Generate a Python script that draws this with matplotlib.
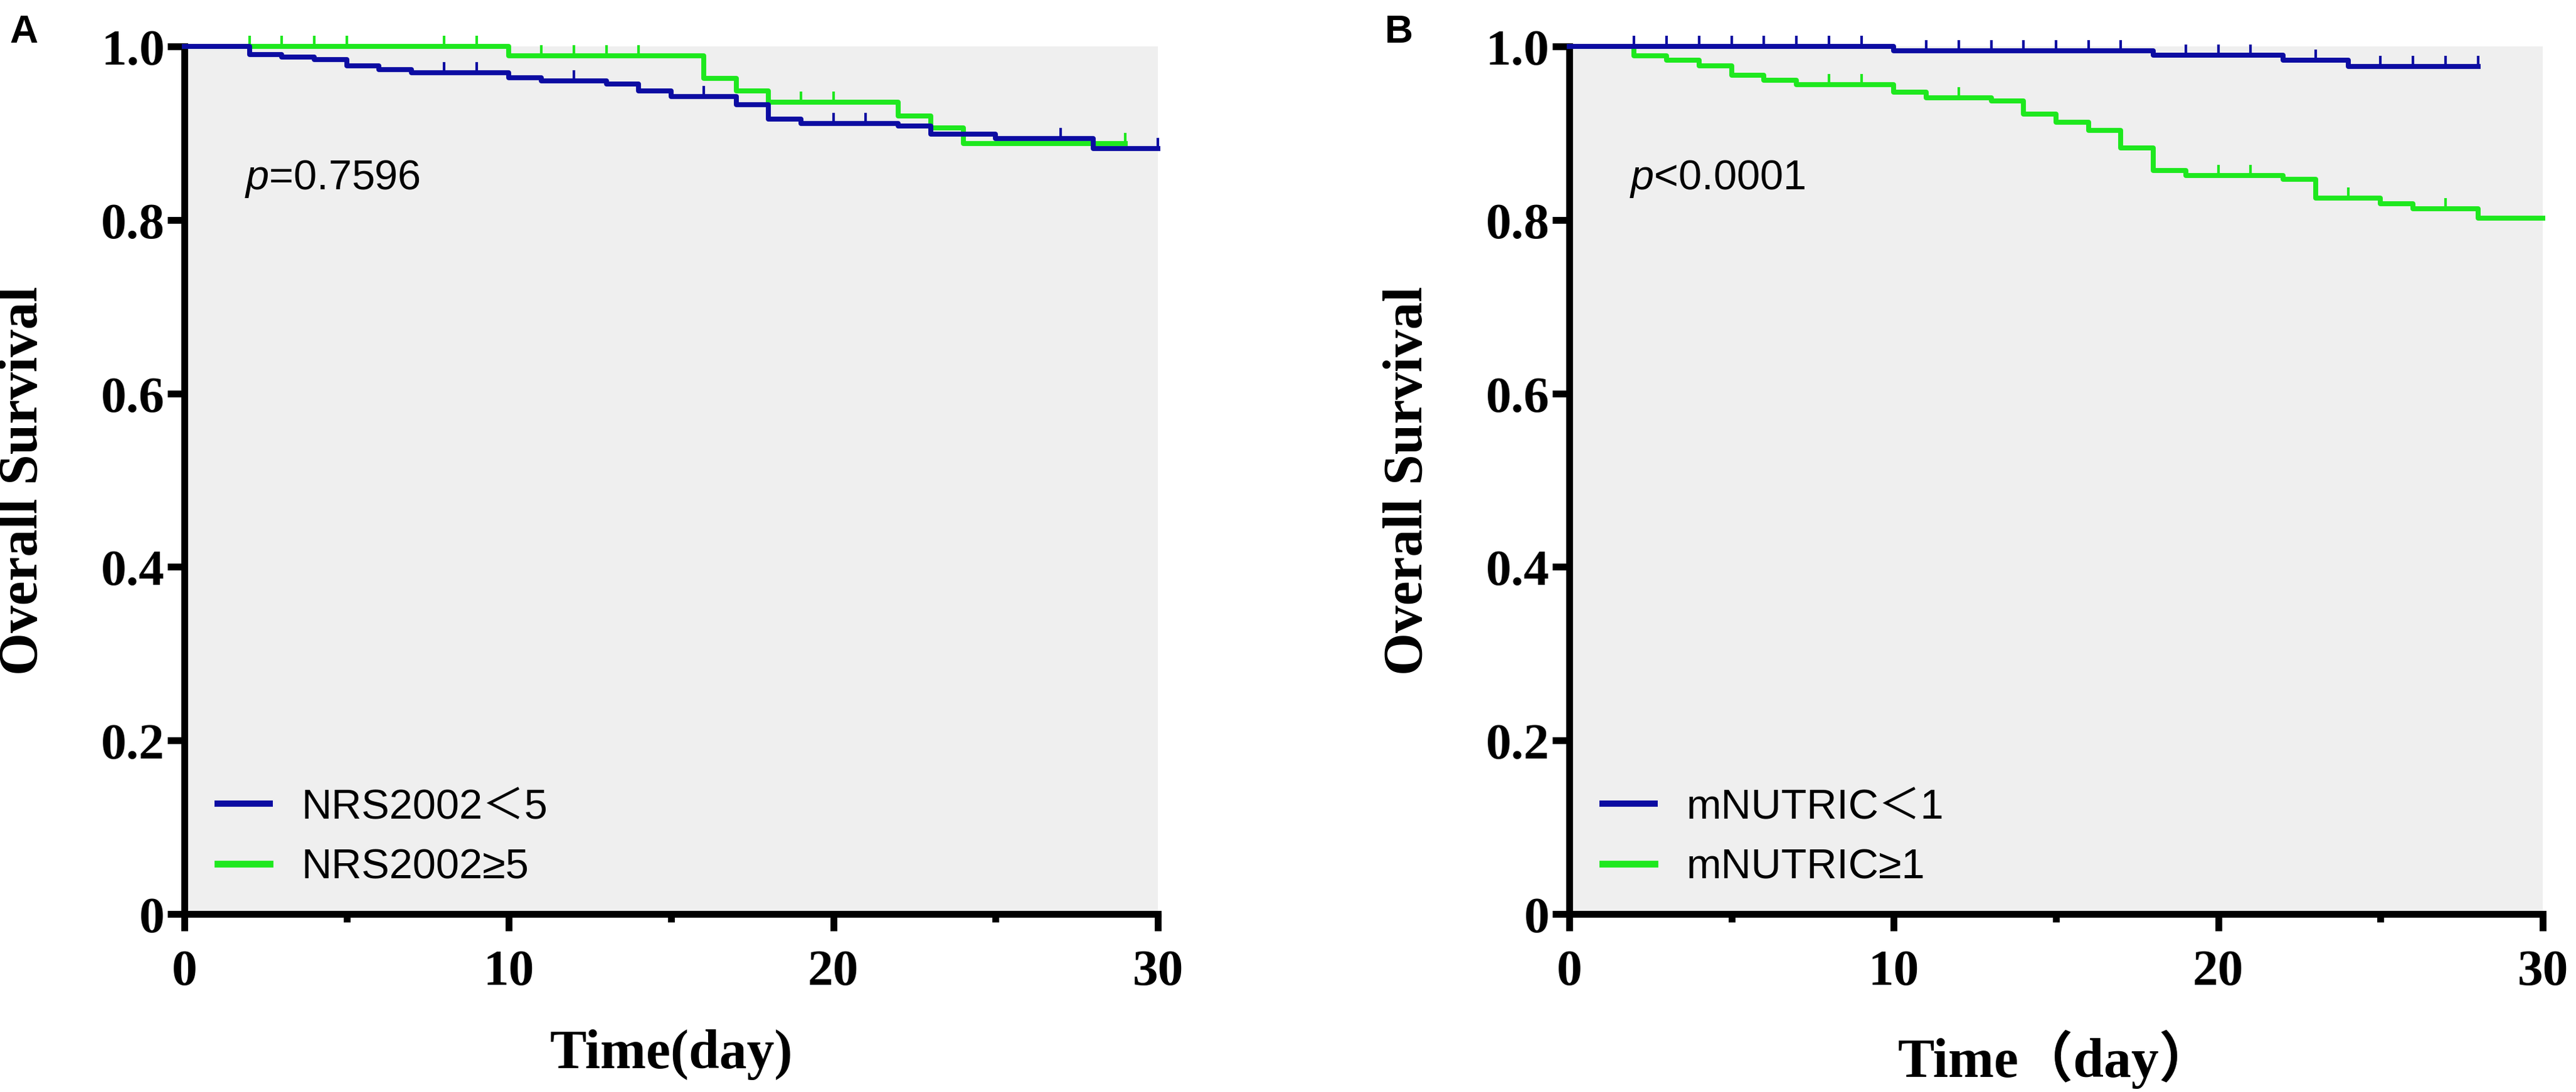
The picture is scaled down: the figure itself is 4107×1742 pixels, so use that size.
import numpy as np
import matplotlib
matplotlib.use("Agg")
import matplotlib.pyplot as plt
from matplotlib.lines import Line2D

plt.rcParams['mathtext.fontset'] = 'custom'
plt.rcParams['mathtext.rm'] = 'Liberation Sans'
plt.rcParams['mathtext.it'] = 'Liberation Sans:italic'

# ---- panel A: NRS2002 ----
a_low_t = [0, 2, 3, 4, 5, 6, 7, 10, 11, 13, 14, 15, 17, 18, 19, 22, 23, 25, 28, 30]
a_low_s = [1.0, 0.991, 0.988, 0.985, 0.978, 0.973, 0.970, 0.964, 0.960, 0.957,
           0.949, 0.942, 0.933, 0.916, 0.911, 0.908, 0.899, 0.894, 0.882, 0.882]
a_low_cens = [8, 9, 12, 16, 20, 21, 27, 30]

a_high_t = [0, 10, 16, 17, 18, 22, 23, 24, 29]
a_high_s = [1.0, 0.989, 0.963, 0.949, 0.936, 0.920, 0.906, 0.888, 0.888]
a_high_cens = [2, 3, 4, 5, 8, 9, 11, 12, 13, 14, 19, 20, 29]

# ---- panel B: mNUTRIC ----
b_low_t = [0, 10, 18, 22, 24, 28]
b_low_s = [1.0, 0.995, 0.990, 0.984, 0.977, 0.977]
b_low_cens = [2, 3, 4, 5, 6, 7, 8, 9, 11, 12, 13, 14, 15, 16, 17,
              19, 20, 21, 23, 25, 26, 27, 28]

b_high_t = [0, 2, 3, 4, 5, 6, 7, 10, 11, 13, 14, 15, 16, 17, 18, 19, 22, 23, 25, 26, 28, 30]
b_high_s = [1.0, 0.989, 0.984, 0.978, 0.967, 0.961, 0.956, 0.947, 0.941, 0.937, 0.922,
            0.913, 0.903, 0.883, 0.857, 0.851, 0.847, 0.825, 0.819, 0.813, 0.802, 0.802]
b_high_cens = [8, 9, 12, 20, 21, 24, 27]

labels_a = ['NRS2002\uff1c5', 'NRS2002\u22655']
labels_b = ['mNUTRIC\uff1c1', 'mNUTRIC\u22651']
pvals = ['$p$=0.7596', '$p$<0.0001']
xlabels = ['Time(day)', 'Time\uff08day\uff09']

BLUE = '#0c0ca2'
GREEN = '#1ee81e'
BG = '#efefef'
SERIF = ['Liberation Serif', 'Noto Sans CJK SC']
SANS = ['Liberation Sans', 'Noto Sans CJK SC']


def km_line(ax, t, s, cens, color):
    t = np.asarray(t, float)
    s = np.asarray(s, float)
    ax.step(t, s, where='post', color=color, lw=1.9, clip_on=False, zorder=3)
    cy = s[np.searchsorted(t, cens, side='right') - 1]
    ax.plot(cens, cy, ls='none', marker=2, ms=4.2, mew=1.0, color=color,
            clip_on=False, zorder=3)


def style_axes(ax, xlabel):
    ax.set_facecolor(BG)
    ax.set_xlim(0, 30)
    ax.set_ylim(0, 1.0)
    for side in ['top', 'right']:
        ax.spines[side].set_visible(False)
    for side in ['left', 'bottom']:
        ax.spines[side].set_linewidth(2.6)
    ax.set_xticks([0, 10, 20, 30])
    ax.set_xticks([5, 15, 25], minor=True)
    ax.set_yticks([0, 0.2, 0.4, 0.6, 0.8, 1.0])
    ax.set_yticklabels(['0', '0.2', '0.4', '0.6', '0.8', '1.0'])
    ax.tick_params(axis='both', which='major', width=2.6, length=6.5, labelsize=19.5)
    ax.tick_params(axis='x', which='major', pad=7)
    ax.tick_params(axis='y', which='major', pad=1)
    ax.tick_params(axis='x', which='minor', width=2.6, length=3)
    for lab in ax.get_xticklabels() + ax.get_yticklabels():
        lab.set_family(SERIF)
        lab.set_fontweight('bold')
    ax.set_xlabel(xlabel, family=SERIF, fontweight='bold', fontsize=21, labelpad=13)
    ax.set_ylabel('Overall Survival', family=SERIF, fontweight='bold', fontsize=21,
                  labelpad=20)


fig = plt.figure(figsize=(4107 / 300, 1743 / 300), dpi=300)
ax_a = fig.add_axes([0.0716, 0.1629, 0.3779, 0.7940])
ax_b = fig.add_axes([0.6092, 0.1629, 0.3779, 0.7940])

panels = [
    (ax_a, a_low_t, a_low_s, a_low_cens, a_high_t, a_high_s, a_high_cens, labels_a),
    (ax_b, b_low_t, b_low_s, b_low_cens, b_high_t, b_high_s, b_high_cens, labels_b),
]

for i, (ax, lt, ls_, lc, ht, hs, hc, labs) in enumerate(panels):
    style_axes(ax, xlabels[i])
    km_line(ax, ht, hs, hc, GREEN)
    km_line(ax, lt, ls_, lc, BLUE)
    ax.text(1.85, 0.848, pvals[i], fontsize=16, family=SANS, va='center', ha='left')
    handles = [Line2D([], [], color=BLUE, lw=2.4), Line2D([], [], color=GREEN, lw=2.6)]
    ax.legend(handles, labs, loc='center left', bbox_to_anchor=(0.034, 0.088),
              frameon=False, prop={'family': SANS, 'size': 16},
              handlelength=1.25, handletextpad=0.75, labelspacing=0.5,
              borderpad=0, borderaxespad=0)

fig.text(15 / 4107, 1 - 22 / 1743, 'A', family=SANS, fontweight='bold', fontsize=15,
         va='top', ha='left')
fig.text(2208 / 4107, 1 - 22 / 1743, 'B', family=SANS, fontweight='bold', fontsize=15,
         va='top', ha='left')

fig.savefig('out.png', dpi=300)
